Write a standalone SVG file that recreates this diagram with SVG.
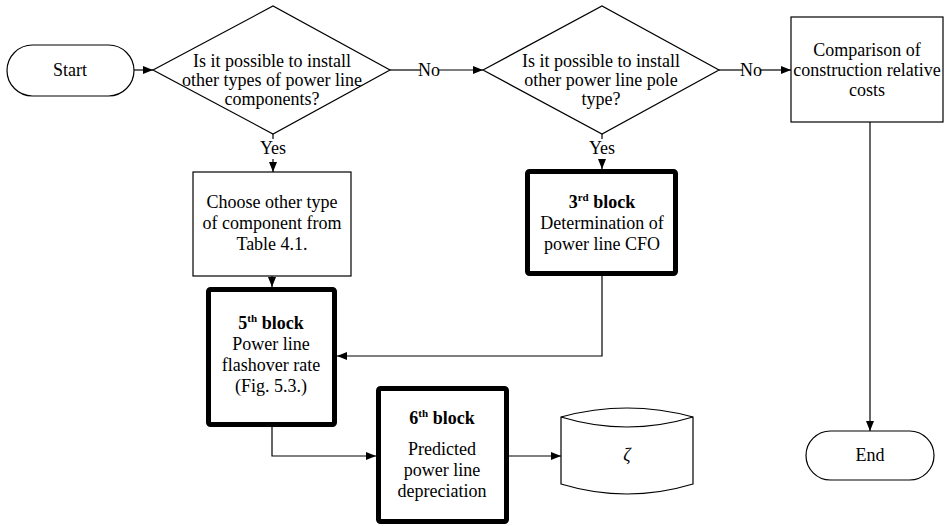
<svg xmlns="http://www.w3.org/2000/svg" width="949" height="526" viewBox="0 0 949 526">
<style>
text{font-family:"Liberation Serif","Times New Roman",serif;font-size:18px;fill:#000;text-anchor:middle}
.b{font-weight:bold}
.n{fill:#fff;stroke:#000;stroke-width:1.2}
.t{fill:#fff;stroke:#000;stroke-width:5;stroke-linejoin:round}
.c{fill:none;stroke:#000;stroke-width:1.2}
</style>
<defs>
<marker id="a" viewBox="0 0 10 8" refX="10" refY="4" markerWidth="10" markerHeight="8" markerUnits="userSpaceOnUse" orient="auto">
<path d="M0,0 L10,4 L0,8 Z" fill="#000"/>
</marker>
</defs>
<g id="connectors">
<path class="c" d="M134,70 H153" marker-end="url(#a)"/>
<path class="c" d="M390,70 H421"/>
<path class="c" d="M438,70 H483" marker-end="url(#a)"/>
<path class="c" d="M719,70 H743"/>
<path class="c" d="M760,70 H791" marker-end="url(#a)"/>
<path class="c" d="M273,134 V139"/>
<path class="c" d="M273,159 V172" marker-end="url(#a)"/>
<path class="c" d="M602,134 V139"/>
<path class="c" d="M602,159 V169" marker-end="url(#a)"/>
<path class="c" d="M272,276 V287" marker-end="url(#a)"/>
<path class="c" d="M602,276 V356 H337" marker-end="url(#a)"/>
<path class="c" d="M272,427 V456 H376" marker-end="url(#a)"/>
<path class="c" d="M509,456 H561" marker-end="url(#a)"/>
<path class="c" d="M870,122 V431" marker-end="url(#a)"/>
<text x="429" y="76">No</text>
<text x="751" y="76">No</text>
<text x="273" y="154">Yes</text>
<text x="602" y="154">Yes</text>
</g>
<g id="start">
<rect class="n" x="7" y="45" width="127" height="51" rx="25.5"/>
<text x="70" y="76">Start</text>
</g>
<g id="decision1">
<path class="n" d="M153,70 L273,6 L390,70 L273,134 Z"/>
<text x="272" y="67">Is it possible to install</text>
<text x="272" y="86">other types of power line</text>
<text x="272" y="105">components?</text>
</g>
<g id="decision2">
<path class="n" d="M483,70 L602,6 L719,70 L602,134 Z"/>
<text x="601" y="67">Is it possible to install</text>
<text x="601" y="86">other power line pole</text>
<text x="601" y="105">type?</text>
</g>
<g id="comparison">
<rect class="n" x="791" y="17" width="152" height="105"/>
<text x="867" y="56">Comparison of</text>
<text x="867" y="76">construction relative</text>
<text x="867" y="96">costs</text>
</g>
<g id="choose">
<rect class="n" x="193" y="172" width="158" height="104"/>
<text x="272" y="208">Choose other type</text>
<text x="272" y="229">of component from</text>
<text x="272" y="250">Table 4.1.</text>
</g>
<g id="block3">
<rect class="t" x="527.5" y="171.5" width="148" height="102" rx="2"/>
<text x="602" y="208" class="b">3<tspan font-size="11" dy="-7">rd</tspan><tspan dy="7"> block</tspan></text>
<text x="602" y="229">Determination of</text>
<text x="602" y="250">power line CFO</text>
</g>
<g id="block5">
<rect class="t" x="208.5" y="289.5" width="126" height="135" rx="2"/>
<text x="271" y="329" class="b">5<tspan font-size="11" dy="-7">th</tspan><tspan dy="7"> block</tspan></text>
<text x="271" y="350">Power line</text>
<text x="271" y="371">flashover rate</text>
<text x="271" y="392">(Fig. 5.3.)</text>
</g>
<g id="block6">
<rect class="t" x="378.5" y="388.5" width="128" height="133" rx="2"/>
<text x="442" y="424" class="b">6<tspan font-size="11" dy="-7">th</tspan><tspan dy="7"> block</tspan></text>
<text x="442" y="455">Predicted</text>
<text x="442" y="476">power line</text>
<text x="442" y="497">depreciation</text>
</g>
<g id="storage">
<path class="n" d="M561,417 Q627,399 693,417 V484 Q627,504 561,484 Z"/>
<path class="c" d="M561,417 Q627,437 693,417"/>
<text x="627" y="461" font-style="italic">ζ</text>
</g>
<g id="end">
<rect class="n" x="806" y="431" width="128" height="49" rx="24.5"/>
<text x="870" y="461">End</text>
</g>
</svg>
